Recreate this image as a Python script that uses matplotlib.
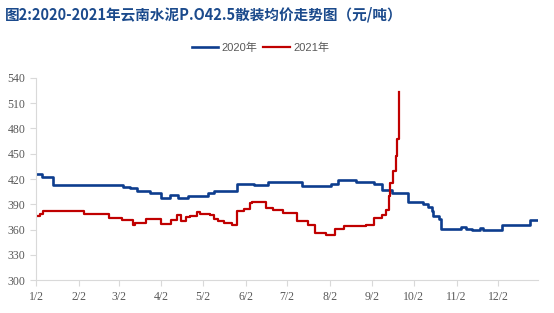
import matplotlib
matplotlib.use("Agg")
import matplotlib.pyplot as plt
import pandas as pd

plt.rcParams['font.family'] = ['Liberation Sans', 'Noto Sans CJK SC']

# 2020 price, step points (month-day, yuan/ton)
dates_2020 = ["01-02", "01-06", "01-14", "03-05", "03-10", "03-15", "03-25", "03-30",
              "04-02", "04-08", "04-14", "04-21", "05-06", "05-10", "05-27", "06-08",
              "06-18", "07-13", "08-03", "08-08", "08-21", "09-03", "09-09", "09-16",
              "09-24", "09-28", "10-09", "10-12", "10-15", "10-16", "10-20", "10-22",
              "11-05", "11-09", "11-13", "11-19", "11-21", "12-05", "12-25", "12-31"]
price_2020 = [426, 422, 413, 410, 409, 406, 404, 403,
              397, 401, 397, 400, 403, 406, 414, 413,
              416, 412, 414, 419, 417, 414, 407, 404,
              403, 393, 390, 387, 382, 376, 373, 361,
              363, 361, 359, 362, 360, 365, 371, 371]

# 2021 price, same calendar axis
dates_2021 = ["01-02", "01-05", "01-07", "02-06", "02-24", "03-04", "03-12", "03-14",
              "03-22", "04-02", "04-09", "04-13", "04-16", "04-20", "04-23", "04-28",
              "04-30", "05-07", "05-10", "05-13", "05-17", "05-23", "05-27", "06-01",
              "06-05", "06-07", "06-17", "06-22", "06-29", "07-09", "07-17", "07-22",
              "07-30", "08-06", "08-12", "08-28", "09-03", "09-09", "09-12", "09-14",
              "09-15", "09-17", "09-19", "09-20", "09-21"]
price_2021 = [376, 379, 382, 378, 374, 371, 366, 368,
              372, 367, 371, 377, 370, 375, 376, 381,
              378, 377, 373, 370, 368, 365, 382, 385,
              391, 393, 386, 383, 380, 370, 365, 356,
              354, 361, 364, 366, 374, 377, 383, 400,
              415, 429, 447, 467, 523]

tick_labels = ["1/2", "2/2", "3/2", "4/2", "5/2", "6/2",
               "7/2", "8/2", "9/2", "10/2", "11/2", "12/2"]

title = "图2:2020-2021年云南水泥P.O42.5散装均价走势图（元/吨）"

fig = plt.figure(figsize=(5.54, 3.13), dpi=100)
ax = fig.add_axes([0.065, 0.105, 0.906, 0.646])

x20 = pd.to_datetime(["2020-" + d for d in dates_2020])
x21 = pd.to_datetime(["2020-" + d for d in dates_2021])
ax.plot(x20, price_2020, drawstyle='steps-post', color='#0D3D8E', lw=1.9, label='2020年')
ax.plot(x21, price_2021, drawstyle='steps-post', color='#C00000', lw=1.6, label='2021年')

ax.set_ylim(300, 540)
ax.set_yticks(range(300, 541, 30))
ax.set_xlim(pd.Timestamp("2020-01-02"), pd.Timestamp("2020-12-31"))
ax.set_xticks(pd.to_datetime(["2020-%02d-02" % m for m in range(1, 13)]))
ax.set_xticklabels(tick_labels)

for s in ['top', 'right']:
    ax.spines[s].set_visible(False)
for s in ['left', 'bottom']:
    ax.spines[s].set_color('#D9D9D9')
ax.tick_params(colors='#D9D9D9', labelcolor='#595959', length=4, width=0.8, labelsize=8.5)
for lab in ax.get_xticklabels() + ax.get_yticklabels():
    lab.set_family('Liberation Serif')

fig.text(0.009, 0.955, title, fontsize=10.5, fontweight='bold', color='#1B4A8C',
         va='center', ha='left', family=['Noto Sans CJK SC'])
fig.legend(loc='center', bbox_to_anchor=(0.47, 0.847), ncol=2, frameon=False,
           fontsize=8, handlelength=2.4, handletextpad=0.3, columnspacing=0.5,
           labelcolor='#595959')

fig.savefig("out.png", dpi=100)
